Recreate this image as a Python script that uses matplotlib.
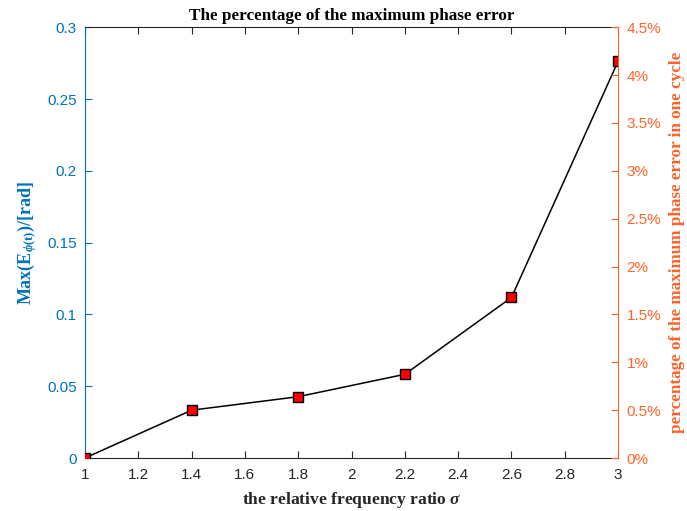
import matplotlib.pyplot as plt
from matplotlib.ticker import FuncFormatter

# frequency ratio and max phase error
sigma = [1.0, 1.4, 1.8, 2.2, 2.6, 3.0]
max_err = [0.0, 0.0333, 0.0427, 0.0583, 0.1118, 0.2763]

x_ticks = [1, 1.2, 1.4, 1.6, 1.8, 2, 2.2, 2.4, 2.6, 2.8, 3]
left_ticks = [0, 0.05, 0.1, 0.15, 0.2, 0.25, 0.3]
right_ticks = [0, 0.5, 1, 1.5, 2, 2.5, 3, 3.5, 4, 4.5]

BLUE = '#0072BD'
ORANGE = '#FF6229'
GRAY = '#262626'

plt.rcParams['font.family'] = ['Liberation Sans', 'DejaVu Sans']
plt.rcParams['mathtext.fontset'] = 'custom'
plt.rcParams['mathtext.rm'] = 'Liberation Serif:bold'
plt.rcParams['mathtext.it'] = 'Liberation Serif:italic:bold'
plt.rcParams['mathtext.bf'] = 'Liberation Serif:bold'

fig = plt.figure(figsize=(6.87, 5.11), dpi=100)
ax = fig.add_axes([0.1237, 0.1037, 0.776, 0.843])

ax.plot(sigma, max_err, color='black', lw=1.1, marker='s', markersize=7,
        markerfacecolor='red', markeredgecolor='black', markeredgewidth=1.0,
        clip_on=True, zorder=3)

ax.set_xlim(1, 3)
ax.set_ylim(0, 0.3)
ax.set_xticks(x_ticks)
ax.set_xticklabels(['1', '1.2', '1.4', '1.6', '1.8', '2', '2.2', '2.4', '2.6', '2.8', '3'])
ax.set_yticks(left_ticks)
ax.set_yticklabels(['0', '0.05', '0.1', '0.15', '0.2', '0.25', '0.3'])
ax.tick_params(axis='x', direction='in', top=True, colors=GRAY, labelsize=11, length=5, pad=7)
ax.tick_params(axis='y', direction='in', colors=BLUE, labelsize=11, length=5, pad=6)
ax.spines['left'].set_color(BLUE)
ax.spines['bottom'].set_color(GRAY)
ax.spines['top'].set_color(GRAY)
ax.spines['right'].set_visible(False)

ax.set_xlabel(r'the relative frequency ratio $\sigma$', family='Liberation Serif',
              fontweight='bold', fontsize=12.6, color=GRAY, labelpad=6)
ax.set_ylabel(r'Max(E$_{\phi\mathrm{(t)}}$)/[rad]', family='Liberation Serif',
              fontweight='bold', fontsize=13, color=BLUE, labelpad=6)
ax.set_title('The percentage of the maximum phase error', family='Liberation Serif',
             fontweight='bold', fontsize=12.3, color='black', pad=5)

ax2 = ax.twinx()
ax2.set_ylim(0, 4.5)
ax2.set_yticks(right_ticks)
ax2.yaxis.set_major_formatter(FuncFormatter(lambda v, p: '%g%%' % v))
ax2.tick_params(axis='y', direction='in', colors=ORANGE, labelsize=11, length=5, pad=6)
ax2.spines['right'].set_color(ORANGE)
ax2.spines['left'].set_visible(False)
ax2.spines['top'].set_visible(False)
ax2.spines['bottom'].set_visible(False)
ax2.set_ylabel('percentage of the maximum phase error in one cycle', family='Liberation Serif',
               fontweight='bold', fontsize=12.3, color=ORANGE, labelpad=6)

fig.savefig('out.png', dpi=100)
